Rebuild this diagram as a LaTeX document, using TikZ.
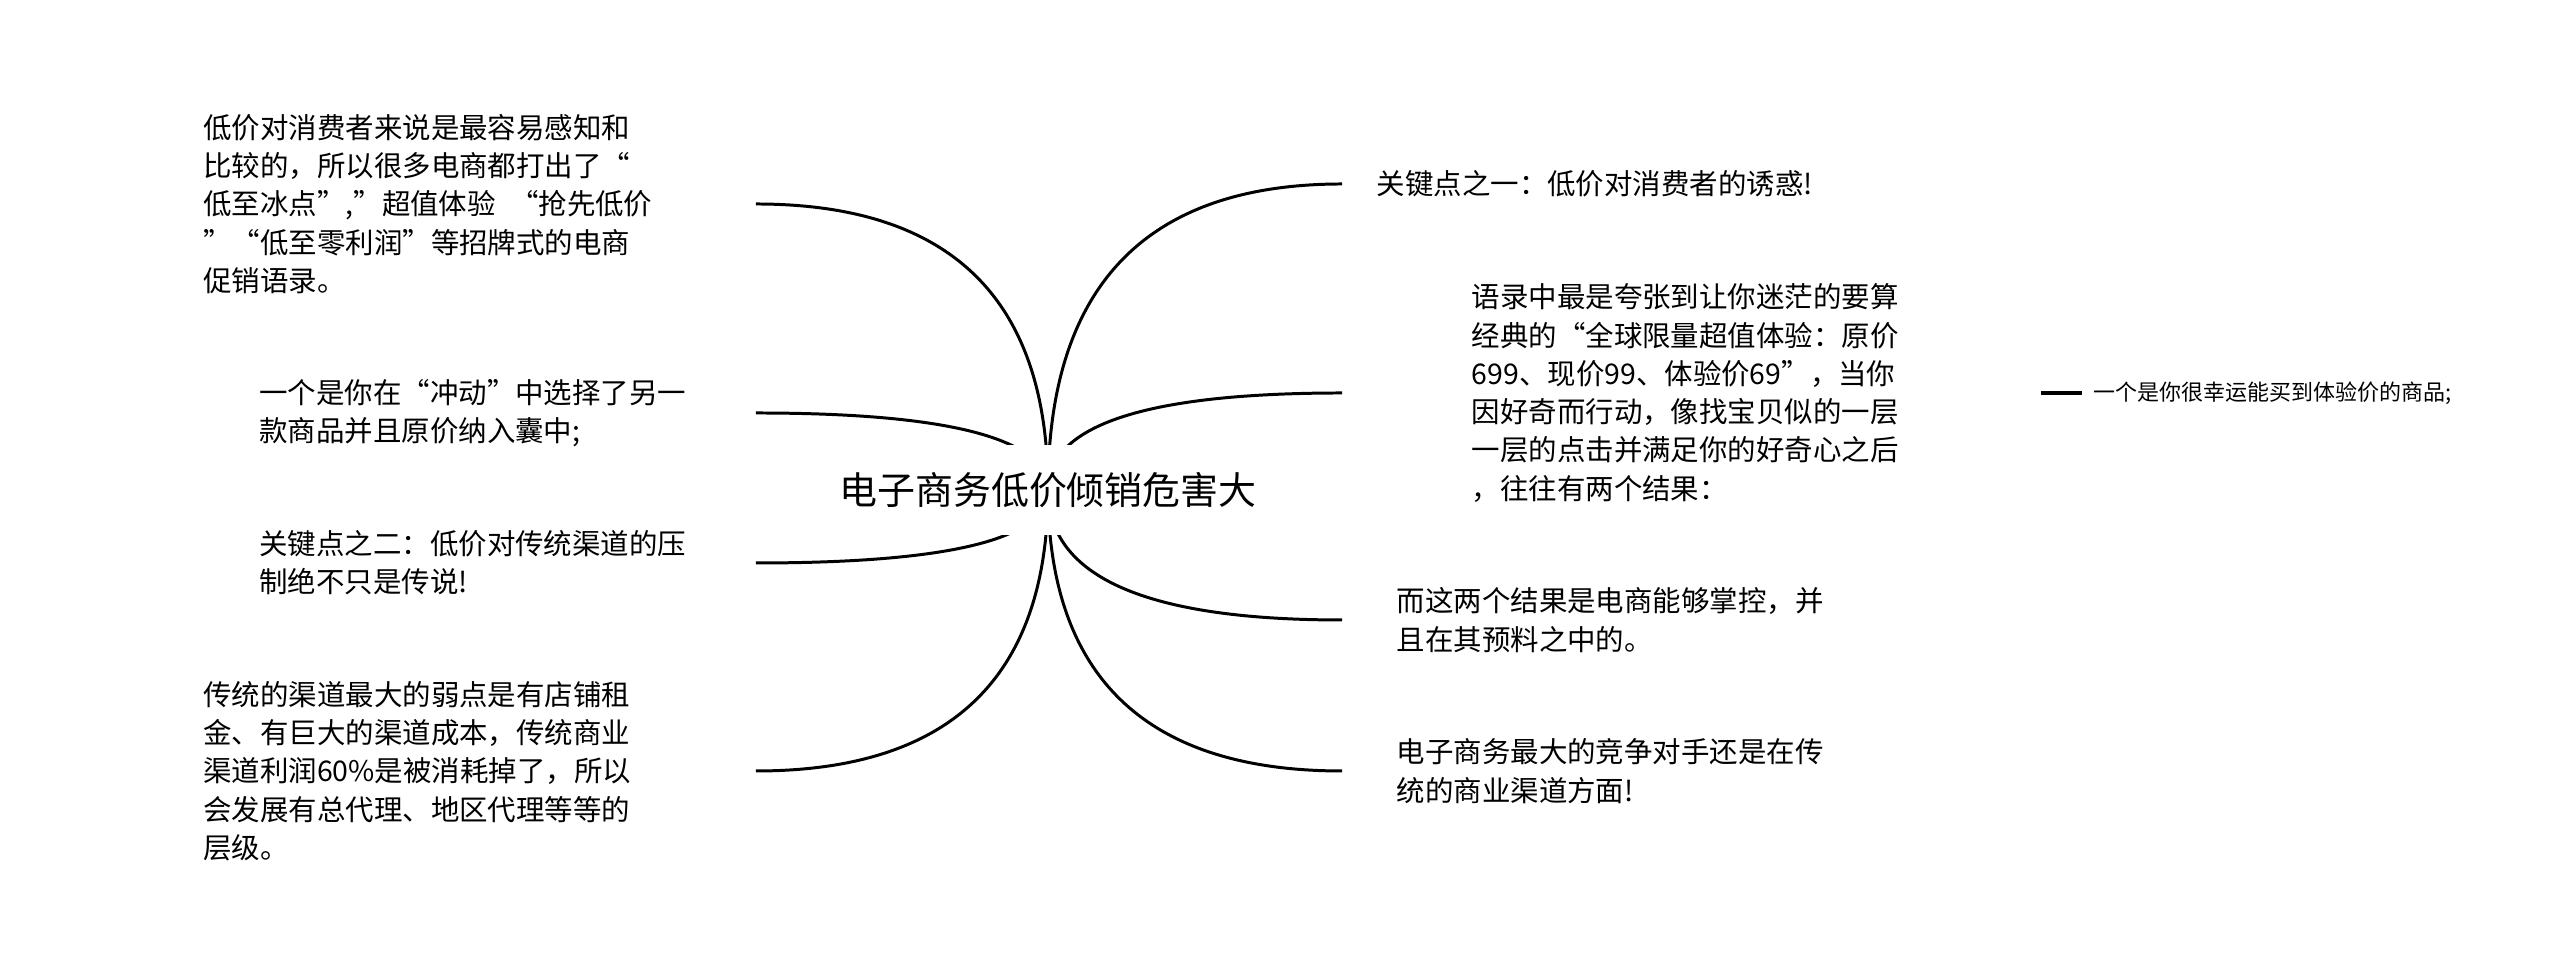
\documentclass[tikz,border=0pt]{standalone}
\usepackage{fontspec}
\setmainfont{Noto Sans CJK SC}
\usetikzlibrary{backgrounds}
\begin{document}
\begin{tikzpicture}[
		topic/.style={fill=white, inner xsep=2mm, minimum height=9mm, font=\fontsize{10.8pt}{13pt}\selectfont},
		leaf/.style={inner ysep=0pt, text width=4.4cm, align=left, font=\fontsize{8.1pt}{10.9pt}\selectfont},
		twig/.style={inner sep=1.1mm, font=\fontsize{6.26pt}{8pt}\selectfont},
		branch/.style={line width=0.85pt}
	]
	\useasboundingbox (-10.48, 4.90) rectangle (15.12, -4.87);
	\node[topic] (root) at (0, 0) {电子商务低价倾销危害大};
	\node[leaf, anchor=east, inner xsep=11.2mm] (lure) at (-2.92, 2.86) {低价对消费者来说是最容易感知和\\比较的，所以很多电商都打出了“\\低至冰点”,”超值体验\enspace“抢先低价\\”“低至零利润”等招牌式的电商\\促销语录。};
	\node[leaf, anchor=east, inner xsep=5.6mm] (impulse) at (-2.92, 0.77) {一个是你在“冲动”中选择了另一\\款商品并且原价纳入囊中;};
	\node[leaf, anchor=east, inner xsep=5.6mm] (keytwo) at (-2.92, -0.73) {关键点之二：低价对传统渠道的压\\制绝不只是传说!};
	\node[leaf, anchor=east, inner xsep=11.2mm] (channel) at (-2.92, -2.81) {传统的渠道最大的弱点是有店铺租\\金、有巨大的渠道成本，传统商业\\渠道利润60\%是被消耗掉了，所以\\会发展有总代理、地区代理等等的\\层级。};
	\node[leaf, anchor=west, inner xsep=3.4mm] (keyone) at (2.94, 3.06) {关键点之一：低价对消费者的诱惑!};
	\node[leaf, anchor=west, inner xsep=12.9mm] (quote) at (2.94, 0.97) {语录中最是夸张到让你迷茫的要算\\经典的“全球限量超值体验：原价\\699、现价99、体验价69”，当你\\因好奇而行动，像找宝贝似的一层\\一层的点击并满足你的好奇心之后\\，往往有两个结果：};
	\node[leaf, anchor=west, inner xsep=5.4mm] (outcome) at (2.94, -1.30) {而这两个结果是电商能够掌控，并\\且在其预料之中的。};
	\node[leaf, anchor=west, inner xsep=5.4mm] (rival) at (2.94, -2.81) {电子商务最大的竞争对手还是在传\\统的商业渠道方面!};
	\node[twig, anchor=west] (luck) at (10.34, 0.97) {一个是你很幸运能买到体验价的商品;};
	\begin{scope}[on background layer]
		\fill[white] (-10.48, 4.90) rectangle (15.12, -4.87);
		\draw[branch] (root.center) .. controls +(0, 1.91) and +(1.95, 0) .. (lure.east);
		\draw[branch] (root.center) .. controls +(0, 0.51) and +(1.95, 0) .. (impulse.east);
		\draw[branch] (root.center) .. controls +(0, -0.49) and +(1.95, 0) .. (keytwo.east);
		\draw[branch] (root.center) .. controls +(0, -1.87) and +(1.95, 0) .. (channel.east);
		\draw[branch] (root.center) .. controls +(0, 2.04) and +(-1.96, 0) .. (keyone.west);
		\draw[branch] (root.center) .. controls +(0, 0.65) and +(-1.96, 0) .. (quote.west);
		\draw[branch] (root.center) .. controls +(0, -0.87) and +(-1.96, 0) .. (outcome.west);
		\draw[branch] (root.center) .. controls +(0, -1.87) and +(-1.96, 0) .. (rival.west);
	\end{scope}
	\draw[branch, line width=1.2pt] (quote.east) -- (luck.west);
\end{tikzpicture}
\end{document}
